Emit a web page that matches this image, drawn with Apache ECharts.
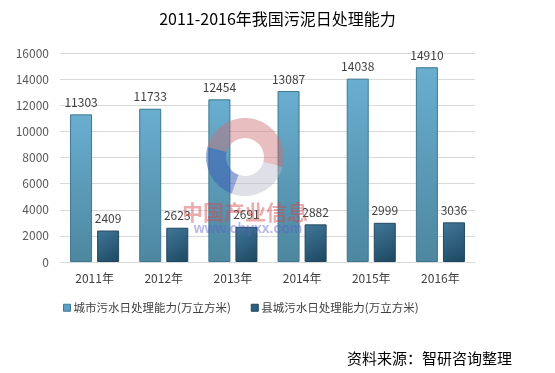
<!DOCTYPE html>
<html><head><meta charset="utf-8">
<script src="https://cdn.jsdelivr.net/npm/echarts@6/dist/echarts.min.js"></script>
<style>html,body{margin:0;padding:0;background:#fff}#c{width:555px;height:373px}</style>
</head><body><div id="c"></div>
<script>
var titleText = '2011-2016年我国污泥日处理能力';
var categories = ['2011年','2012年','2013年','2014年','2015年','2016年'];
var seriesNames = ['城市污水日处理能力(万立方米)','县城污水日处理能力(万立方米)'];
var cityValues = [11303, 11733, 12454, 13087, 14038, 14910];
var countyValues = [2409, 2623, 2691, 2882, 2999, 3036];
var sourceText = '资料来源：智研咨询整理';
var watermarkCn = '中国产业信息';
var watermarkUrl = 'www.chyxx.com';

var FONT = '"Noto Sans CJK SC", "Microsoft YaHei", sans-serif';
var chart = echarts.init(document.getElementById('c'), null, {renderer:'canvas'});
var deg = Math.PI/180;
chart.setOption({
  animation:false,
  backgroundColor:'#fff',
  textStyle:{fontFamily:FONT},
  title:{text:titleText, left:'center', top:11, textStyle:{fontSize:16, fontWeight:'normal', color:'#000', fontFamily:FONT}, padding:0, itemGap:0},
  grid:{left:60, right:80, top:53, bottom:111, containLabel:false},
  legend:{left:63, top:302, padding:0, itemWidth:7, itemHeight:7, itemGap:20, icon:'rect',
    textStyle:{fontSize:11.5, color:'#404040', fontFamily:FONT, padding:[0,0,0,-2]},
    data:[{name:seriesNames[0], itemStyle:{color:'#5d9fc2', borderColor:'#3e7a96', borderWidth:1}},
          {name:seriesNames[1], itemStyle:{color:'#2f5f7d', borderColor:'#1f4558', borderWidth:1}}]},
  xAxis:{type:'category', data:categories,
    axisLine:{lineStyle:{color:'#d9d9d9'}}, axisTick:{show:false},
    axisLabel:{fontSize:12, color:'#404040', margin:10, fontFamily:FONT}},
  yAxis:{type:'value', min:0, max:16000, interval:2000,
    axisLine:{show:false}, axisTick:{show:false},
    splitLine:{lineStyle:{color:'#d9d9d9'}},
    axisLabel:{fontSize:12, color:'#595959', margin:11, fontFamily:FONT, formatter:function(v){return String(v);}}},
  series:[
    {name:seriesNames[0], type:'bar', data:cityValues, barWidth:22, barGap:'23%', z:2,
     itemStyle:{color:new echarts.graphic.LinearGradient(0,0,0,1,[{offset:0,color:'#6aaed0'},{offset:1,color:'#4d879f'}]), borderColor:'#3e7790', borderWidth:1},
     label:{show:true, position:'top', distance:6, fontSize:12, color:'#404040', fontFamily:FONT}},
    {name:seriesNames[1], type:'bar', data:countyValues, barWidth:22, z:2,
     itemStyle:{color:new echarts.graphic.LinearGradient(0,0,1,1,[{offset:0,color:'#41789a'},{offset:1,color:'#1c4760'}]), borderColor:'#23475c', borderWidth:1},
     label:{show:true, position:'top', distance:6, fontSize:12, color:'#404040', fontFamily:FONT}}
  ],
  graphic:[
    {type:'sector', z:100, silent:true, shape:{cx:245, cy:157, r:39, r0:19, startAngle:-165*deg, endAngle:15*deg}, style:{fill:'rgba(205,110,115,0.45)'}},
    {type:'sector', z:100, silent:true, shape:{cx:245, cy:157, r:39, r0:19, startAngle:15*deg, endAngle:110*deg}, style:{fill:'rgba(185,185,205,0.45)'}},
    {type:'sector', z:100, silent:true, shape:{cx:245, cy:157, r:39, r0:19, startAngle:110*deg, endAngle:195*deg}, style:{fill:'rgba(60,95,180,0.55)'}},
    {type:'text', z:100, silent:true, style:{text:watermarkCn, x:245, y:212, align:'center', verticalAlign:'middle', font:'bold 21px '+FONT, fill:'rgba(210,70,75,0.45)'}},
    {type:'text', z:100, silent:true, style:{text:watermarkUrl, x:248, y:229, align:'center', verticalAlign:'middle', font:'bold 14px Arial, sans-serif', fill:'rgba(90,95,200,0.45)'}},
    {type:'text', right:43, top:351, style:{text:sourceText, font:'15px '+FONT, fill:'#000'}}
  ]
});
</script></body></html>
